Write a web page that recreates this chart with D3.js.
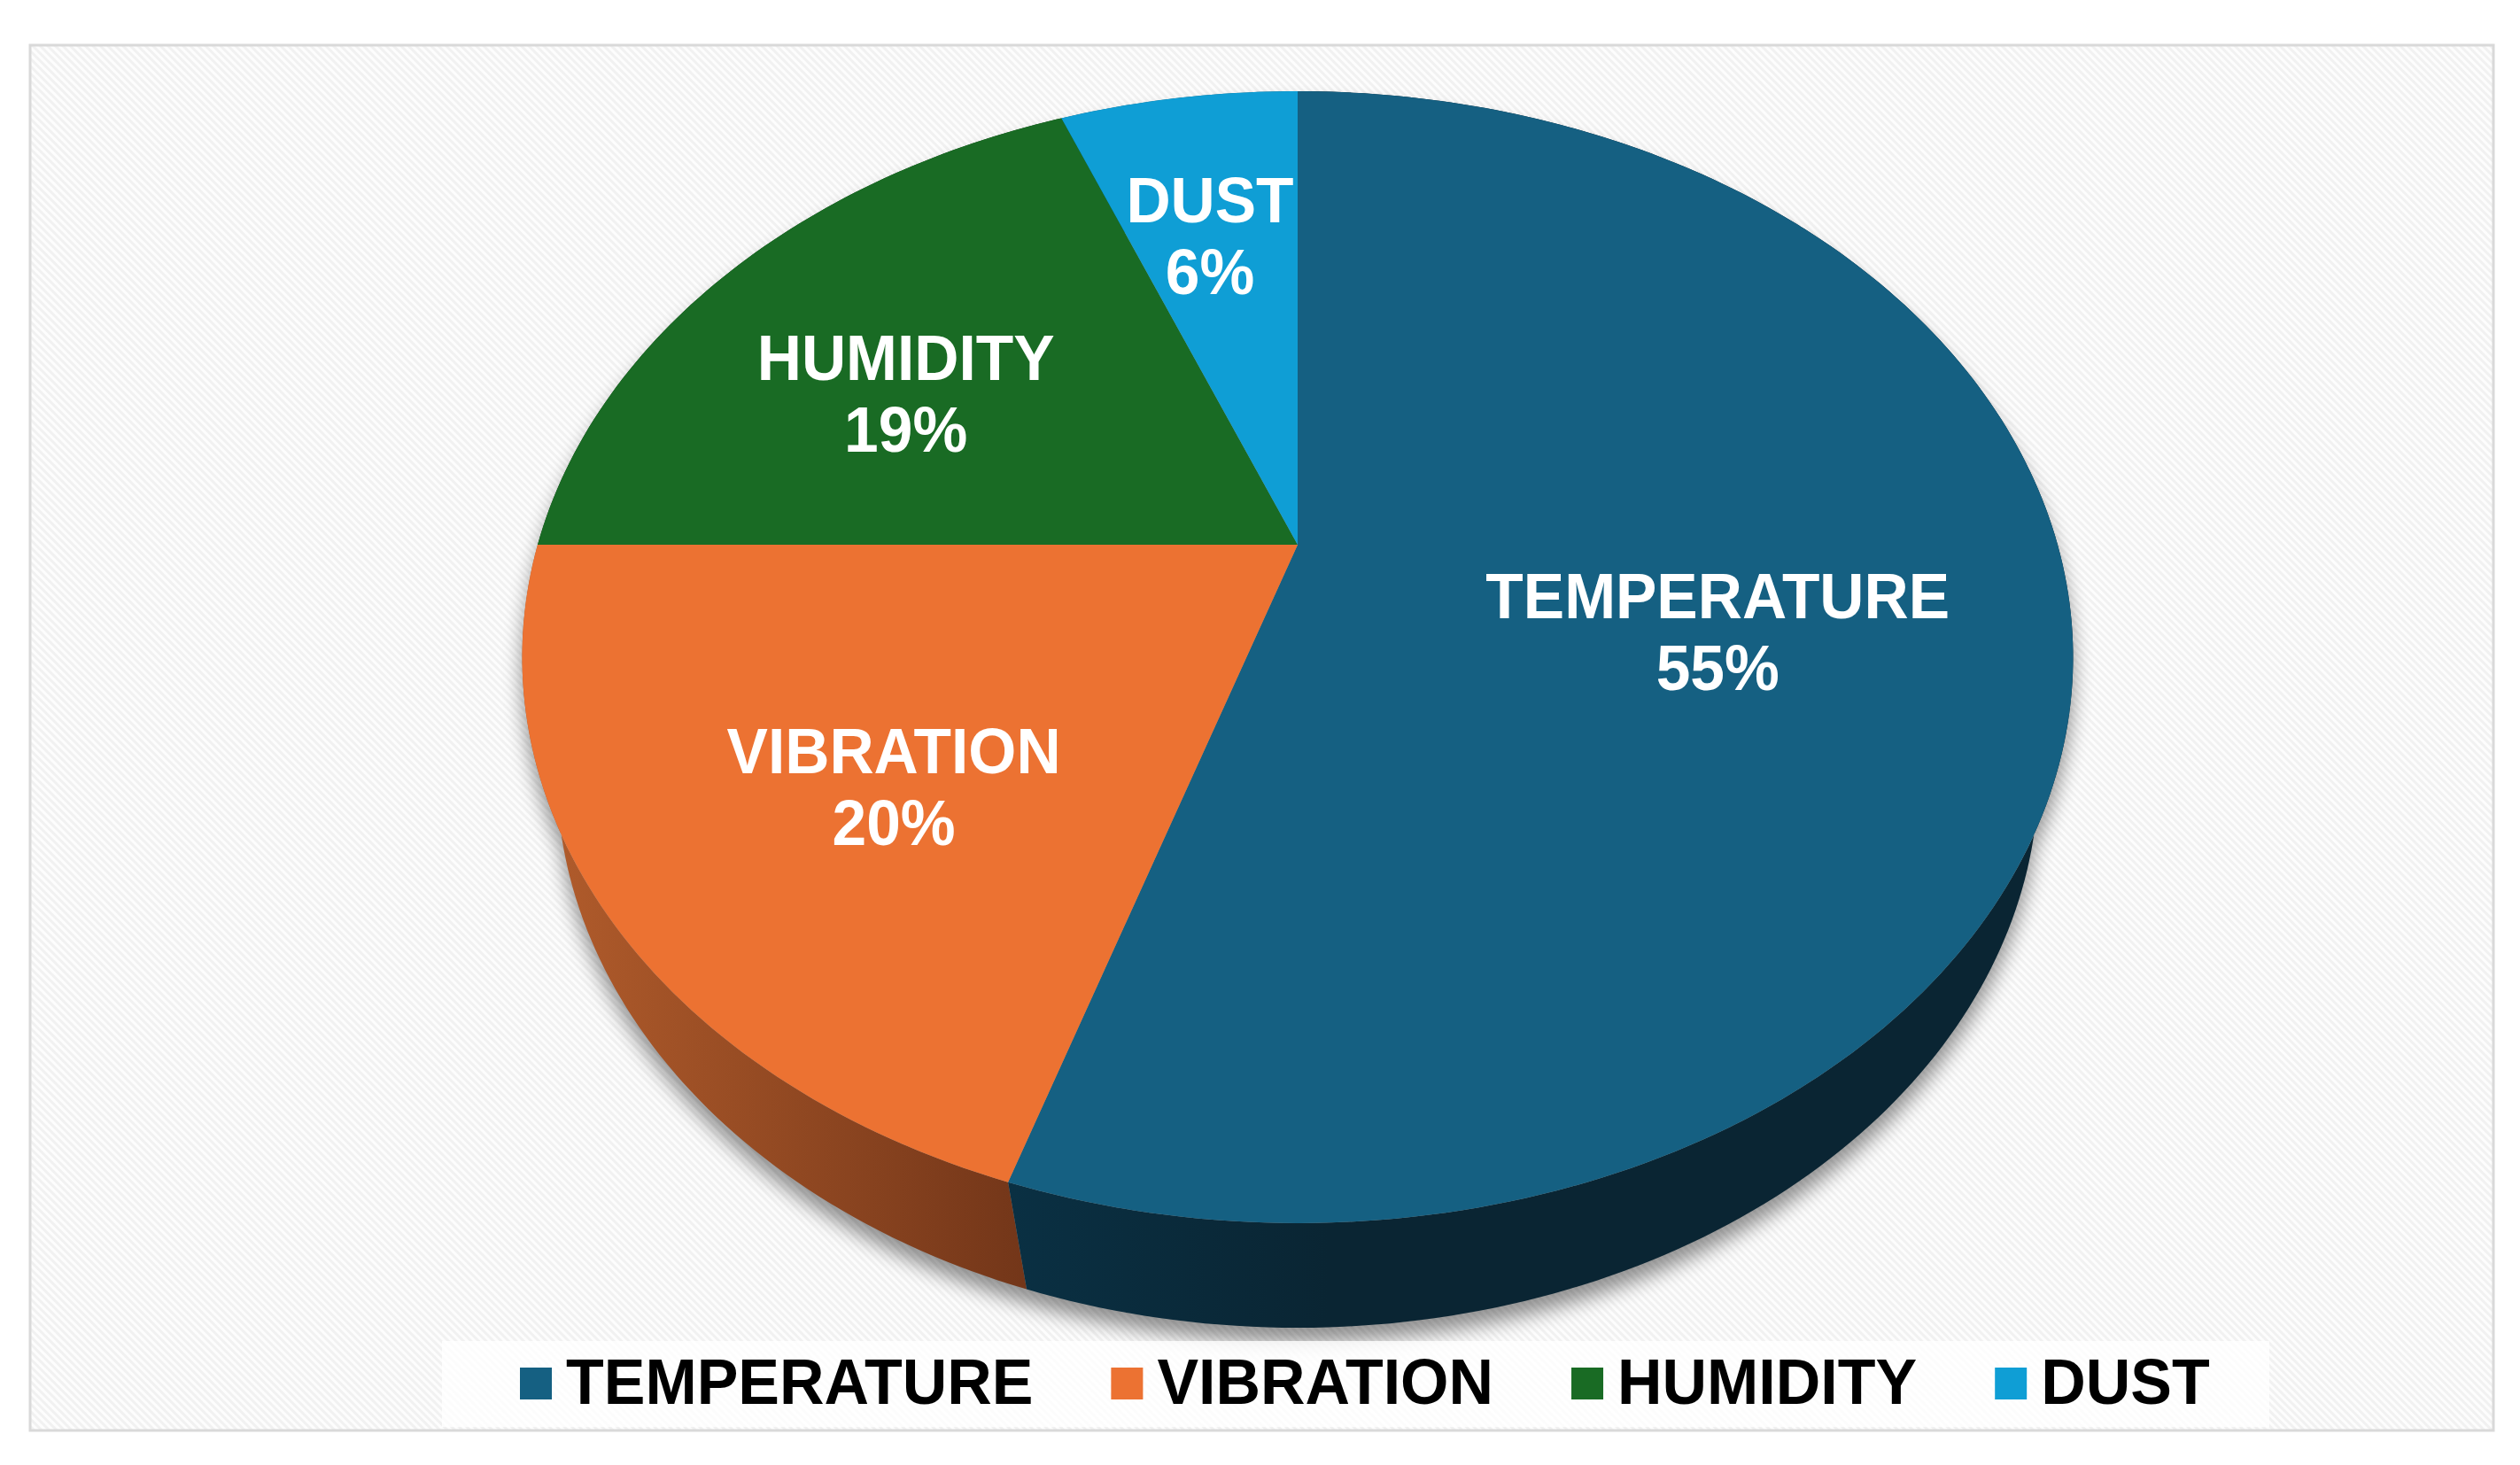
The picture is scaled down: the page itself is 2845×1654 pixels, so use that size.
<!DOCTYPE html>
<html>
<head>
<meta charset="utf-8">
<script src="https://cdn.jsdelivr.net/npm/d3@7"></script>
<style>
    html, body { margin: 0; padding: 0; background: #fff; }
    svg { display: block; }
    text { font-family: "Liberation Sans", Arial, sans-serif; font-weight: bold; }
</style>
</head>
<body>
<div class="chart"></div>
<script>
// chart data
var categories = ["TEMPERATURE", "VIBRATION", "HUMIDITY", "DUST"];
var shares = [55, 20, 19, 6];
var colors = ["#156082", "#ec7232", "#196b24", "#0f9ed5"];

var width = 2845, height = 1654;

// perspective of the tilted disc, fitted on the picture
var topFace = { x: 1465, y: 615, rx: 858, ry: 613.7, tilt: 0.1987 };
var bottomFace = { x: 1465, y: 761, rx: 823.4, ry: 607.4, tilt: 0.177 };

// where the slice labels sit: fraction of the radius, then a nudge down
var labelRadius = [0.55, 0.61, 0.67, 0.70];
var labelNudge = [45, 37, 45, 23];

var labelScale = 0.965;
var legendScale = 0.972;

project = (angle, r, face) => {
    var u = Math.sin(angle) * r;
    var v = -Math.cos(angle) * r;
    var w = 1 - face.tilt * v;
    return [face.x + face.rx * u / w, face.y + face.ry * v / w];
};

arcPoints = (a0, a1, face) => {
    var step = Math.PI / 180;
    var pts = d3.range(a0, a1, step).map((a) => project(a, 1, face));
    pts.push(project(a1, 1, face));
    return pts;
};

var line = d3.line();

var svg = d3.select(".chart").append("svg")
    .attr("width", width)
    .attr("height", height);

var defs = svg.append("defs");

// background stripes
var stripes = defs.append("pattern")
    .attr("id", "stripes")
    .attr("patternUnits", "userSpaceOnUse")
    .attr("width", 6)
    .attr("height", 6)
    .attr("patternTransform", "rotate(-45)");
stripes.append("rect").attr("width", 6).attr("height", 6).attr("fill", "#fdfdfd");
stripes.append("rect").attr("width", 3).attr("height", 6).attr("fill", "#f1f1f1");

var blur = defs.append("filter")
    .attr("id", "blur")
    .attr("x", "-10%").attr("y", "-10%")
    .attr("width", "120%").attr("height", "120%");
blur.append("feGaussianBlur").attr("stdDeviation", 11);

// side wall shading
var sideStops = [
    [["#b05b2b", 0], ["#733619", 1]],
    [["#0a3043", 0], ["#0a2533", 1]]
];
var sideGrad = [[626, 1158], [1138, 1500]];
sideStops.forEach((stops, i) => {
    var g = defs.append("linearGradient")
        .attr("id", "side" + i)
        .attr("gradientUnits", "userSpaceOnUse")
        .attr("x1", sideGrad[i][0]).attr("x2", sideGrad[i][1])
        .attr("y1", 0).attr("y2", 0);
    stops.forEach((s) => {
        g.append("stop").attr("offset", s[1]).attr("stop-color", s[0]);
    });
});

// panel
svg.append("rect")
    .attr("x", 34).attr("y", 51)
    .attr("width", 2781).attr("height", 1564)
    .attr("fill", "url(#stripes)")
    .attr("stroke", "#d9d9d9")
    .attr("stroke-width", 3);

var slices = d3.pie().sort(null)(shares);

// silhouette for the shadow
var shadow = svg.append("g")
    .attr("filter", "url(#blur)")
    .attr("transform", "translate(0,16)")
    .attr("opacity", 0.42);
slices.forEach((d) => {
    var top = arcPoints(d.startAngle, d.endAngle, topFace);
    var bottom = arcPoints(d.startAngle, d.endAngle, bottomFace).reverse();
    shadow.append("path")
        .attr("d", line(top.concat(bottom)) + "Z")
        .attr("fill", "#000");
});
shadow.append("path")
    .attr("d", line(arcPoints(0, 2 * Math.PI, topFace)) + "Z")
    .attr("fill", "#000");

// side walls, back slices first so the front ones stay on top
[3, 2, 1, 0].forEach((i) => {
    var d = slices[i];
    var top = arcPoints(d.startAngle, d.endAngle, topFace);
    var bottom = arcPoints(d.startAngle, d.endAngle, bottomFace).reverse();
    svg.append("path")
        .attr("class", "side")
        .attr("d", line(top.concat(bottom)) + "Z")
        .attr("fill", i == 1 ? "url(#side0)" : i == 0 ? "url(#side1)" : d3.rgb(colors[i]).darker(1.5));
});

// top face
svg.selectAll(".slice")
    .data(slices)
    .enter().append("path")
    .attr("class", "slice")
    .attr("d", (d) => {
        var pts = arcPoints(d.startAngle, d.endAngle, topFace);
        pts.unshift([topFace.x, topFace.y]);
        return line(pts) + "Z";
    })
    .attr("fill", (d, i) => colors[i]);

// slice labels
slices.forEach((d, i) => {
    var mid = (d.startAngle + d.endAngle) / 2;
    var p = project(mid, labelRadius[i], topFace);
    var cy = p[1] + labelNudge[i];
    [[categories[i], -15.5], [shares[i] + "%", 65.5]].forEach((row) => {
        svg.append("text")
            .attr("transform", "translate(" + p[0] + "," + (cy + row[1]) + ") scale(" + labelScale + ",1)")
            .attr("text-anchor", "middle")
            .attr("font-size", 72)
            .attr("fill", "#fff")
            .text(row[0]);
    });
});

// legend
svg.append("rect")
    .attr("x", 499).attr("y", 1514)
    .attr("width", 2063).attr("height", 97)
    .attr("fill", "#fff")
    .attr("fill-opacity", 0.8);

var legendX = 587;
categories.forEach((c, i) => {
    svg.append("rect")
        .attr("x", legendX).attr("y", 1544)
        .attr("width", 36).attr("height", 36)
        .attr("fill", colors[i]);
    var t = svg.append("text")
        .attr("transform", "translate(" + (legendX + 52) + ",1585) scale(" + legendScale + ",1)")
        .attr("font-size", 72)
        .attr("fill", "#000")
        .text(c);
    legendX += 52 + t.node().getComputedTextLength() * legendScale + 88;
});
</script>
</body>
</html>
